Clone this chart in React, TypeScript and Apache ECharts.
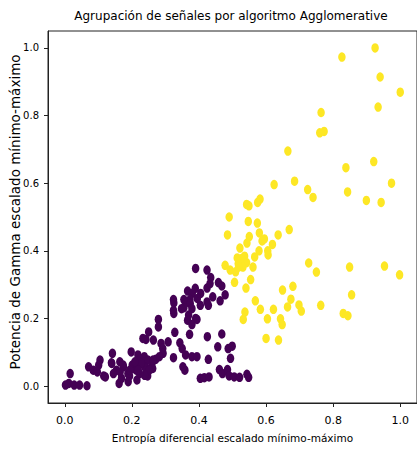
import React, { useEffect, useRef } from "react";
import * as echarts from "echarts";

const titleText = "Agrupación de señales por algoritmo Agglomerative";
const xName = "Entropía diferencial escalado mínimo-máximo";
const yName = "Potencia de Gamma escalado mínimo-máximo";

const xTicks = [0, 0.2, 0.4, 0.6, 0.8, 1.0];
const yTicks = [0, 0.2, 0.4, 0.6, 0.8, 1.0];

// Cluster 0 (purple)
const cluster0: [number, number][] = [
  [0.390, 0.348], [0.424, 0.343], [0.435, 0.321], [0.458, 0.306], [0.468, 0.296],
  [0.389, 0.289], [0.366, 0.281], [0.424, 0.290], [0.433, 0.303], [0.478, 0.270], [0.441, 0.264],
  [0.380, 0.274], [0.405, 0.274], [0.395, 0.259],
  [0.324, 0.256], [0.355, 0.256], [0.373, 0.256], [0.463, 0.252],
  [0.325, 0.246], [0.360, 0.246], [0.374, 0.244], [0.424, 0.249], [0.355, 0.232], [0.379, 0.229],
  [0.404, 0.239], [0.428, 0.239], [0.348, 0.229],
  [0.325, 0.215], [0.369, 0.210], [0.324, 0.224], [0.390, 0.200], [0.366, 0.195],
  [0.394, 0.197], [0.379, 0.182],
  [0.328, 0.159], [0.372, 0.153], [0.425, 0.146], [0.468, 0.154],
  [0.279, 0.197], [0.279, 0.175], [0.250, 0.160], [0.242, 0.138], [0.264, 0.136], [0.233, 0.141],
  [0.308, 0.131], [0.343, 0.128], [0.350, 0.111], [0.287, 0.126], [0.292, 0.111],
  [0.293, 0.097], [0.324, 0.084], [0.360, 0.092], [0.379, 0.087], [0.394, 0.087], [0.428, 0.079],
  [0.456, 0.116], [0.487, 0.111], [0.499, 0.118], [0.494, 0.082],
  [0.198, 0.101], [0.218, 0.092], [0.237, 0.087], [0.271, 0.079], [0.260, 0.067], [0.282, 0.087],
  [0.142, 0.097], [0.105, 0.077], [0.139, 0.069],
  [0.164, 0.072], [0.175, 0.057], [0.201, 0.062], [0.222, 0.065], [0.242, 0.054], [0.262, 0.052],
  [0.213, 0.047], [0.188, 0.037], [0.154, 0.047], [0.242, 0.032],
  [0.071, 0.057], [0.085, 0.047], [0.097, 0.042], [0.116, 0.030], [0.101, 0.062],
  [0.016, 0.037],
  [0.002, 0.003], [0.012, 0.008], [0.028, 0.003], [0.044, 0.003], [0.066, 0.001],
  [0.162, 0.008], [0.169, 0.023], [0.193, 0.030], [0.215, 0.018], [0.247, 0.030], [0.189, 0.013],
  [0.358, 0.047], [0.352, 0.057],
  [0.404, 0.023], [0.416, 0.025], [0.430, 0.027],
  [0.461, 0.049], [0.470, 0.037], [0.485, 0.049], [0.490, 0.030], [0.505, 0.027], [0.521, 0.026],
  [0.543, 0.035], [0.548, 0.026],
  [0.223, 0.077], [0.233, 0.072], [0.248, 0.077], [0.263, 0.077], [0.238, 0.057], [0.252, 0.047],
  [0.238, 0.032], [0.223, 0.037],
  [0.145, 0.037], [0.165, 0.042], [0.174, 0.062], [0.140, 0.067], [0.121, 0.027],
  [0.228, 0.067], [0.209, 0.072], [0.194, 0.047], [0.219, 0.047],
];

// Cluster 1 (yellow)
const cluster1: [number, number][] = [
  [0.925, 1.000], [0.826, 0.973], [0.940, 0.914], [1.000, 0.869], [0.934, 0.825],
  [0.764, 0.809], [0.760, 0.749], [0.773, 0.753], [0.665, 0.695], [0.838, 0.646], [0.921, 0.664],
  [0.624, 0.596], [0.685, 0.606], [0.724, 0.581], [0.740, 0.558], [0.843, 0.574], [0.974, 0.600],
  [0.899, 0.549], [0.943, 0.543], [0.542, 0.537], [0.549, 0.533], [0.575, 0.543], [0.582, 0.553],
  [0.490, 0.500], [0.547, 0.487], [0.574, 0.482], [0.485, 0.447], [0.580, 0.453], [0.669, 0.463],
  [0.636, 0.447], [0.550, 0.442], [0.595, 0.435], [0.588, 0.429], [0.543, 0.423], [0.619, 0.419],
  [0.522, 0.408], [0.579, 0.400], [0.605, 0.400], [0.606, 0.388], [0.536, 0.384], [0.514, 0.379],
  [0.527, 0.377], [0.566, 0.382], [0.542, 0.365], [0.517, 0.362], [0.531, 0.352], [0.478, 0.357],
  [0.493, 0.343], [0.509, 0.338], [0.561, 0.352], [0.518, 0.352], [0.506, 0.307], [0.554, 0.315],
  [0.540, 0.290], [0.727, 0.364], [0.750, 0.337], [0.849, 0.352], [0.953, 0.355], [0.998, 0.329],
  [0.649, 0.284], [0.680, 0.295], [0.674, 0.257], [0.855, 0.270], [0.568, 0.252], [0.583, 0.227],
  [0.537, 0.219], [0.532, 0.197], [0.622, 0.227], [0.604, 0.199], [0.643, 0.199], [0.648, 0.182],
  [0.664, 0.234], [0.698, 0.240], [0.705, 0.222], [0.763, 0.239], [0.830, 0.215], [0.844, 0.208],
  [0.600, 0.141], [0.637, 0.136],
];

const FONT = "DejaVu Sans";

export default function App() {
  const ref = useRef<HTMLDivElement>(null);
  useEffect(() => {
    if (!ref.current) return;
    const chart = echarts.init(ref.current, undefined, { renderer: "svg" });
    const symbolSize = [7.5, 9.5];
    chart.setOption({
      animation: false,
      backgroundColor: "#ffffff",
      grid: {
        left: 48,
        top: 31,
        width: 374,
        height: 372,
        show: true,
        borderColor: "#222",
        borderWidth: 1,
        backgroundColor: "transparent",
      },
      graphic: [
        {
          type: "text",
          x: 231,
          y: 16,
          style: {
            text: titleText,
            textAlign: "center",
            textVerticalAlign: "middle",
            fontFamily: FONT,
            fontSize: 12,
            fill: "#000",
          },
        },
        {
          type: "text",
          x: 15,
          y: 212,
          rotation: Math.PI / 2,
          style: {
            text: yName,
            textAlign: "center",
            textVerticalAlign: "middle",
            fontFamily: FONT,
            fontSize: 13.5,
            fill: "#000",
          },
        },
      ],
      xAxis: {
        type: "value",
        min: -0.05,
        max: 1.05,
        splitLine: { show: false },
        axisLine: { show: true, onZero: false, lineStyle: { color: "#222", width: 1 } },
        axisTick: { show: true, length: 4, customValues: xTicks, lineStyle: { color: "#222" } },
        axisLabel: {
          customValues: xTicks,
          formatter: (v: number) => v.toFixed(1),
          fontFamily: FONT,
          fontSize: 11,
          color: "#000",
          margin: 12,
        },
        name: xName,
        nameLocation: "middle",
        nameGap: 29,
        nameTextStyle: { fontFamily: FONT, fontSize: 10.5, color: "#000" },
      },
      yAxis: {
        type: "value",
        min: -0.05,
        max: 1.05,
        splitLine: { show: false },
        axisLine: { show: true, onZero: false, lineStyle: { color: "#222", width: 1 } },
        axisTick: { show: true, length: 4, customValues: yTicks, lineStyle: { color: "#222" } },
        axisLabel: {
          customValues: yTicks,
          formatter: (v: number) => v.toFixed(1),
          fontFamily: FONT,
          fontSize: 10,
          color: "#000",
          margin: 9,
        },
      },
      series: [
        {
          type: "scatter",
          data: cluster0,
          symbol: "circle",
          symbolSize,
          itemStyle: { color: "#440154", opacity: 1 },
        },
        {
          type: "scatter",
          data: cluster1,
          symbol: "circle",
          symbolSize,
          itemStyle: { color: "#fde725", opacity: 1 },
        },
      ],
    });
    return () => chart.dispose();
  }, []);
  return (
    <div
      ref={ref}
      style={{ position: "fixed", left: 0, top: 0, width: 417, height: 451, background: "#fff" }}
    />
  );
}
